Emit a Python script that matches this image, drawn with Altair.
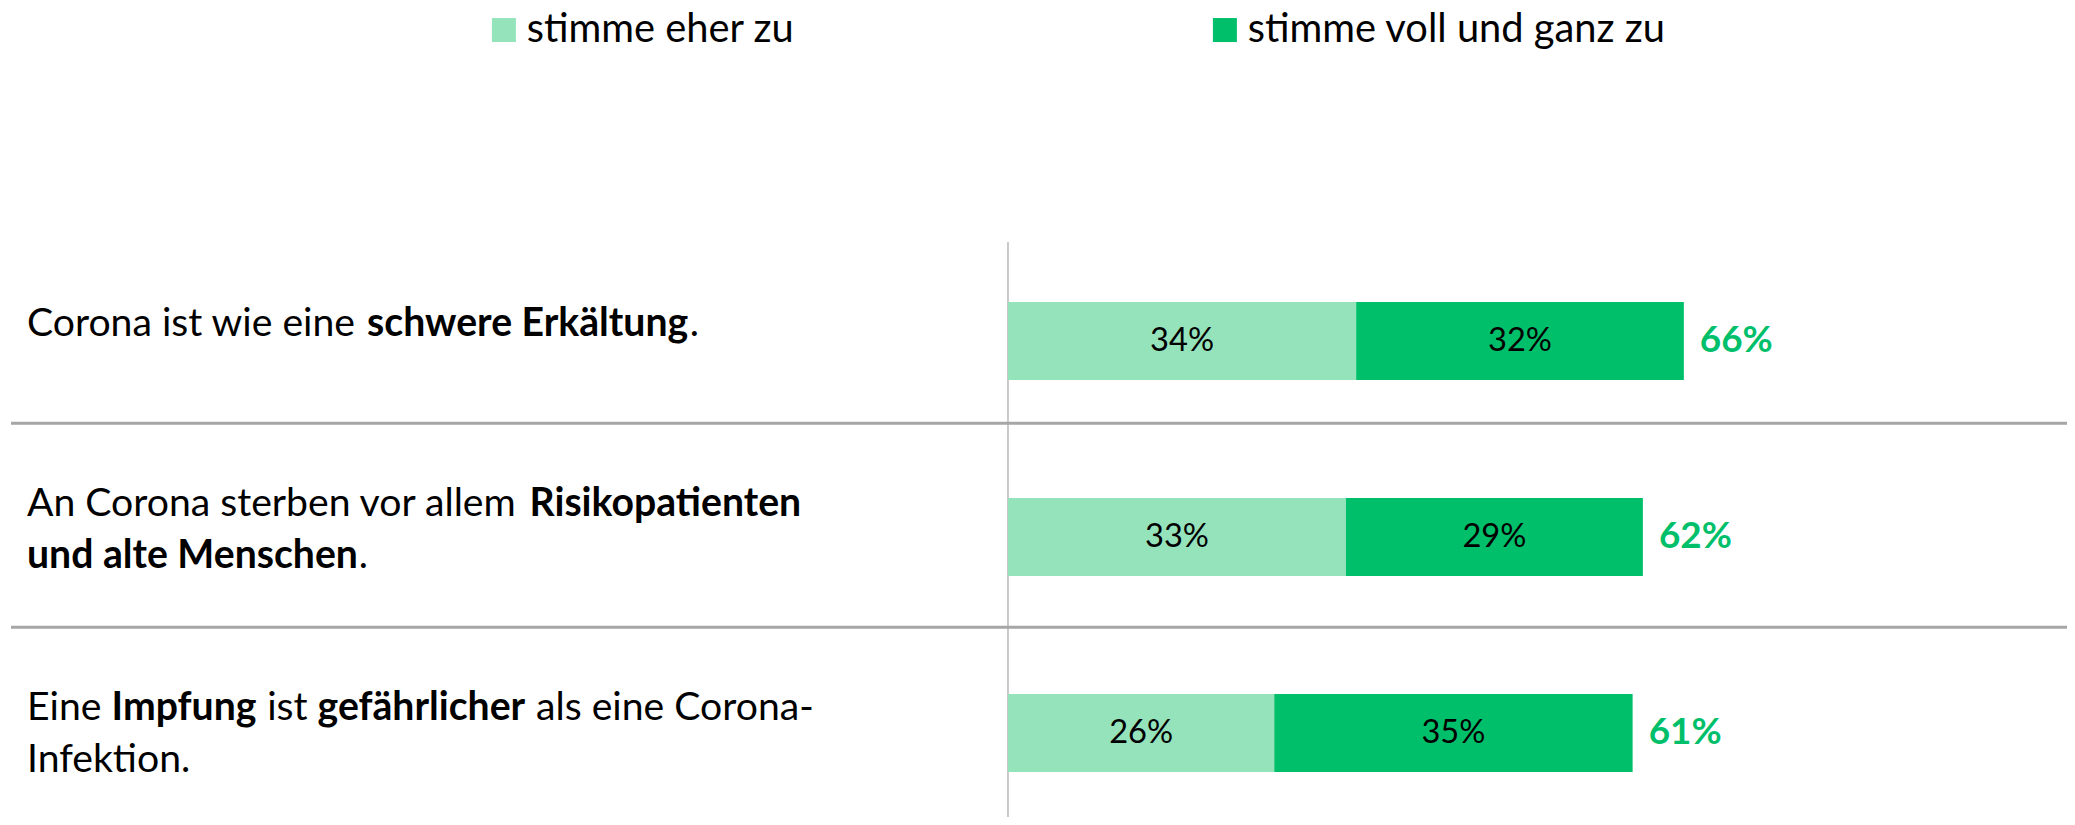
import glob
import os
import struct

import altair as alt
import pandas as pd

# ---------------- data ----------------
SERIES = ["stimme eher zu", "stimme voll und ganz zu"]
COLORS = ["#95e3bb", "#00bf6a"]
TOTAL_COLOR = "#00bf6a"

STATEMENTS = [
    "Corona ist wie eine schwere Erkältung.",
    "An Corona sterben vor allem Risikopatienten und alte Menschen.",
    "Eine Impfung ist gefährlicher als eine Corona-Infektion.",
]
EHER = [34, 33, 26]
VOLL = [32, 29, 35]
TOTAL = [66, 62, 61]

# rich-text runs of each statement: list of lines, each a list of (text, bold)
LABEL_RUNS = [
    [[("Corona ist wie eine ", False), ("schwere Erkältung", True), (".", False)]],
    [[("An Corona sterben vor allem ", False), ("Risikopatienten", True)],
     [("und alte Menschen", True), (".", False)]],
    [[("Eine ", False), ("Impfung", True), (" ist ", False), ("gefährlicher", True),
      (" als eine Corona-", False)],
     [("Infektion.", False)]],
]

# ---------------- layout constants ----------------
W, H = 2059, 809
ZERO_PX = 1000          # x pixel of 0 %
PX_PER_PCT = 10.24
ROW_TOP, ROW_BOTTOM = 333, 725   # pixel centres of first / last row
BAR_SIZE = 78
LABEL_X_PX = 19
LINE_GAP = 52
FIRST_BASELINE = [-5, -21, -13]  # px offset of first text baseline from row centre
SEPARATORS = [0.42, 1.46]        # in row units
FONT = "Lato"


# ---------------- font metrics (for placing bold / normal runs) ----------------
def find_font(name):
    roots = ["/usr/share/fonts", "/usr/local/share/fonts",
             os.path.expanduser("~/.fonts"), os.path.expanduser("~/.local/share/fonts")]
    for r in roots:
        hits = glob.glob(os.path.join(r, "**", name), recursive=True)
        if hits:
            return hits[0]
    return None


class Metrics:
    def __init__(self, path, fallback):
        self.fallback = fallback
        self.ok = False
        if path:
            try:
                self._load(path)
                self.ok = True
            except Exception:
                self.ok = False

    def _load(self, path):
        with open(path, "rb") as f:
            d = f.read()
        self.d = d
        n = struct.unpack(">H", d[4:6])[0]
        t = {}
        for i in range(n):
            tag, _, off, _ = struct.unpack(">4sIII", d[12 + 16 * i:28 + 16 * i])
            t[tag] = off
        self.upm = struct.unpack(">H", d[t[b"head"] + 18:t[b"head"] + 20])[0]
        nh = struct.unpack(">H", d[t[b"hhea"] + 34:t[b"hhea"] + 36])[0]
        hm = t[b"hmtx"]
        self.adv = [struct.unpack(">H", d[hm + 4 * i:hm + 4 * i + 2])[0] for i in range(nh)]
        cm = t[b"cmap"]
        ns = struct.unpack(">H", d[cm + 2:cm + 4])[0]
        best = None
        for i in range(ns):
            pid, eid, off = struct.unpack(">HHI", d[cm + 4 + 8 * i:cm + 12 + 8 * i])
            fmt = struct.unpack(">H", d[cm + off:cm + off + 2])[0]
            if fmt == 12 and pid in (0, 3):
                best = (12, cm + off)
                break
            if fmt == 4 and pid in (0, 3) and best is None:
                best = (4, cm + off)
        self.fmt, self.sub = best

    def glyph(self, c):
        d, o = self.d, self.sub
        if self.fmt == 12:
            ng = struct.unpack(">I", d[o + 12:o + 16])[0]
            for k in range(ng):
                s, e, g = struct.unpack(">III", d[o + 16 + 12 * k:o + 28 + 12 * k])
                if s <= c <= e:
                    return g + c - s
            return 0
        segx2 = struct.unpack(">H", d[o + 6:o + 8])[0]
        ends = o + 14
        starts = ends + segx2 + 2
        deltas = starts + segx2
        ros = deltas + segx2
        for k in range(segx2 // 2):
            e = struct.unpack(">H", d[ends + 2 * k:ends + 2 * k + 2])[0]
            if e >= c:
                s = struct.unpack(">H", d[starts + 2 * k:starts + 2 * k + 2])[0]
                if s > c:
                    return 0
                delta = struct.unpack(">h", d[deltas + 2 * k:deltas + 2 * k + 2])[0]
                ro = struct.unpack(">H", d[ros + 2 * k:ros + 2 * k + 2])[0]
                if ro == 0:
                    return (c + delta) & 0xFFFF
                addr = ros + 2 * k + ro + 2 * (c - s)
                g = struct.unpack(">H", d[addr:addr + 2])[0]
                return (g + delta) & 0xFFFF if g else 0
        return 0

    def width(self, text, size):
        if not self.ok:
            return len(text) * self.fallback * size
        tot = 0
        for ch in text:
            g = self.glyph(ord(ch))
            tot += self.adv[min(g, len(self.adv) - 1)]
        return tot * size / self.upm


REG = Metrics(find_font("Lato-Regular.ttf"), 0.50)
BOLD = Metrics(find_font("Lato-Bold.ttf"), 0.53)


def run_width(runs, size):
    return sum((BOLD if b else REG).width(t, size) for t, b in runs)


def clamp(v, lo, hi):
    return max(lo, min(hi, v))


# font sizes matched to the widths of the reference's texts
LABEL_SIZE = clamp(672 / run_width(LABEL_RUNS[0][0], 1.0), 28, 44)
LEGEND_SIZE = clamp(267 / REG.width(SERIES[0], 1.0), 28, 46)
VALUE_SIZE = clamp(64 / REG.width("34%", 1.0), 26, 42)
TOTAL_SIZE = clamp(73 / BOLD.width("66%", 1.0), 26, 44)

# ---------------- tables ----------------
xscale = alt.Scale(domain=[0, 100], range=[ZERO_PX, ZERO_PX + 100 * PX_PER_PCT],
                   zero=False, nice=False, padding=0)
yscale = alt.Scale(domain=[0, len(STATEMENTS) - 1], range=[ROW_TOP, ROW_BOTTOM],
                   zero=False, nice=False, padding=0)
row_px = (ROW_BOTTOM - ROW_TOP) / (len(STATEMENTS) - 1)

bar_rows = []
for i, st in enumerate(STATEMENTS):
    start = 0
    for s, v in zip(SERIES, (EHER[i], VOLL[i])):
        bar_rows.append({"statement": st, "row": i, "series": s, "start": start,
                         "end": start + v, "mid": start + v / 2, "label": f"{v}%"})
        start += v
bars_df = pd.DataFrame(bar_rows)

totals_df = pd.DataFrame({"row": list(range(len(STATEMENTS))),
                          "end": [e + v for e, v in zip(EHER, VOLL)],
                          "label": [f"{t}%" for t in TOTAL]})

seg_rows = []
for i, lines in enumerate(LABEL_RUNS):
    for li, runs in enumerate(lines):
        off = FIRST_BASELINE[i] + li * LINE_GAP
        cursor = LABEL_X_PX
        for text, bold in runs:
            m = BOLD if bold else REG
            lead = len(text) - len(text.lstrip(" "))
            px = cursor + m.width(text[:lead], LABEL_SIZE)
            seg_rows.append({"text": text.strip(" "), "bold": bold,
                             "xd": (px - ZERO_PX) / PX_PER_PCT,
                             "yd": i + off / row_px})
            cursor += m.width(text, LABEL_SIZE)
segs_df = pd.DataFrame(seg_rows)

sep_df = pd.DataFrame({"y": SEPARATORS})
axis_df = pd.DataFrame({"x": [0], "y0": [-(ROW_TOP - 234) / row_px],
                        "y1": [len(STATEMENTS) - 1 + 0.6]})

# ---------------- layers ----------------
LEG_X = 476
LEG_LABEL_OFFSET = 3
entry1 = 24 + 11 + LEG_LABEL_OFFSET + REG.width(SERIES[0], LEGEND_SIZE)
legend = alt.Legend(orient="none", legendX=LEG_X, legendY=max(2, 21 - LEGEND_SIZE / 2),
                    direction="horizontal", title=None, symbolType="square",
                    symbolSize=576, symbolStrokeWidth=0, symbolOpacity=1,
                    labelFont=FONT, labelFontSize=LEGEND_SIZE, labelColor="black",
                    labelOffset=LEG_LABEL_OFFSET, labelLimit=1000,
                    columnPadding=(1213 - 8) - (LEG_X + 8 + entry1) - 6)

bars = alt.Chart(bars_df).mark_bar(size=BAR_SIZE, orient="horizontal").encode(
    x=alt.X("start:Q", scale=xscale, axis=None),
    x2="end:Q",
    y=alt.Y("row:Q", scale=yscale, axis=None),
    color=alt.Color("series:N", scale=alt.Scale(domain=SERIES, range=COLORS), legend=legend),
)

values = alt.Chart(bars_df).mark_text(font=FONT, fontSize=VALUE_SIZE, color="black",
                                      align="center", baseline="middle").encode(
    x=alt.X("mid:Q", scale=xscale, axis=None),
    y=alt.Y("row:Q", scale=yscale, axis=None),
    text="label:N",
)

totals = alt.Chart(totals_df).mark_text(font=FONT, fontSize=TOTAL_SIZE, fontWeight="bold",
                                        color=TOTAL_COLOR, align="left", baseline="middle",
                                        dx=16).encode(
    x=alt.X("end:Q", scale=xscale, axis=None),
    y=alt.Y("row:Q", scale=yscale, axis=None),
    text="label:N",
)


def seg_layer(bold):
    return alt.Chart(segs_df[segs_df["bold"] == bold]).mark_text(
        font=FONT, fontSize=LABEL_SIZE, fontWeight="bold" if bold else "normal",
        color="black", align="left", baseline="alphabetic").encode(
        x=alt.X("xd:Q", scale=xscale, axis=None),
        y=alt.Y("yd:Q", scale=yscale, axis=None),
        text="text:N",
    )


separators = alt.Chart(sep_df).mark_rule(color="#a6a6a6", strokeWidth=3).encode(
    x=alt.value(3), x2=alt.value(W),
    y=alt.Y("y:Q", scale=yscale, axis=None),
)

zero_axis = alt.Chart(axis_df).mark_rule(color="#a6a6a6", strokeWidth=1.2).encode(
    x=alt.X("x:Q", scale=xscale, axis=None),
    y=alt.Y("y0:Q", scale=yscale, axis=None),
    y2="y1:Q",
)

chart = alt.layer(separators, zero_axis, bars, values, totals,
                  seg_layer(False), seg_layer(True)).properties(
    width=W, height=H, padding=0, autosize=alt.AutoSizeParams(type="none"),
    background="white",
).configure_view(stroke=None)

chart.save("out.html", embed_options={"renderer": "svg", "actions": False})
